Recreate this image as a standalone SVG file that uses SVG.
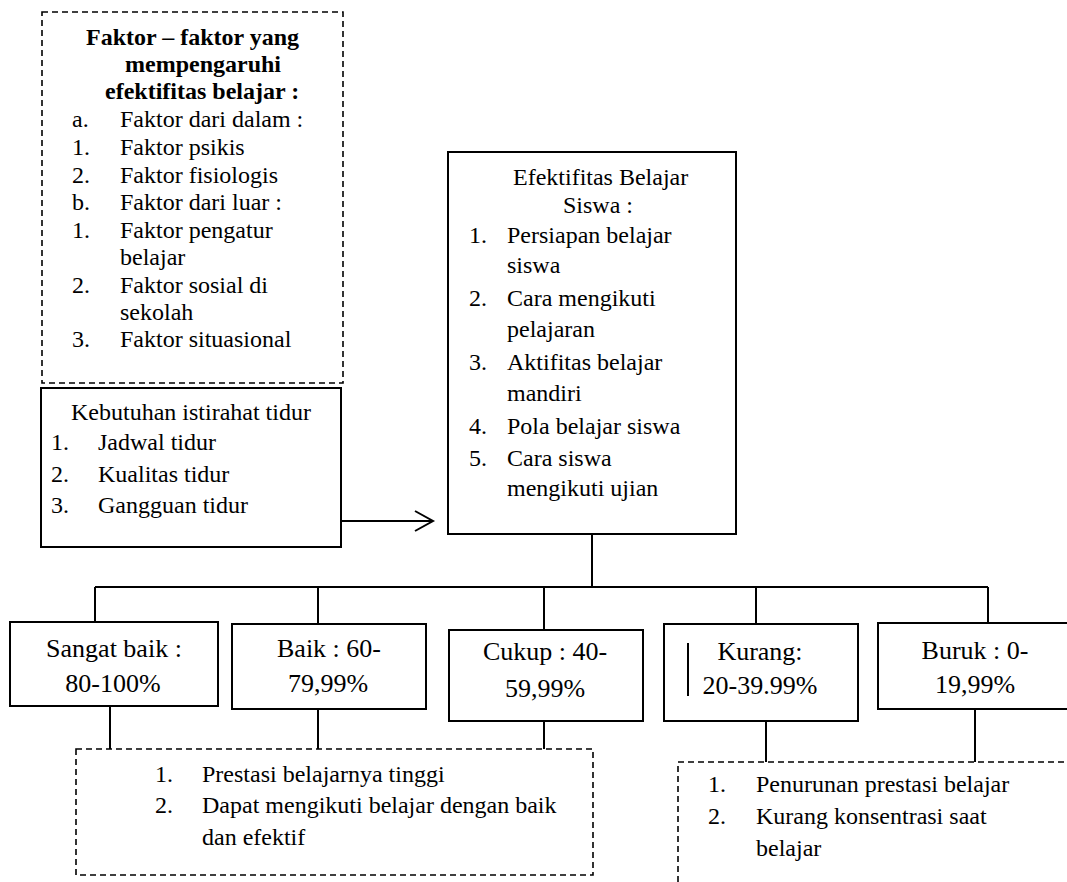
<svg xmlns="http://www.w3.org/2000/svg" width="1067" height="882" viewBox="0 0 1067 882">
<style>
  text { font-family: "Liberation Serif", "Times New Roman", serif; fill: #000; }
  .t { font-size: 24px; }
  .b { font-size: 24px; font-weight: bold; }
  .big { font-size: 26px; text-anchor: middle; }
  .box { fill: #fff; stroke: #000; stroke-width: 2; }
  .dash { fill: none; stroke: #000; stroke-width: 1.6; stroke-dasharray: 6 4; }
  .ln { fill: none; stroke: #000; stroke-width: 2; }
</style>
<rect width="1067" height="882" fill="#fff"/>

<g id="faktor">
  <rect class="dash" x="42" y="12" width="301" height="371"/>
  <text class="b" x="86" y="45">Faktor – faktor yang</text>
  <text class="b" x="125" y="72">mempengaruhi</text>
  <text class="b" x="105" y="99">efektifitas belajar :</text>
  <text class="t" x="72" y="127">a.</text><text class="t" x="120" y="127">Faktor dari dalam :</text>
  <text class="t" x="72" y="155">1.</text><text class="t" x="120" y="155">Faktor psikis</text>
  <text class="t" x="72" y="183">2.</text><text class="t" x="120" y="183">Faktor fisiologis</text>
  <text class="t" x="72" y="210">b.</text><text class="t" x="120" y="210">Faktor dari luar :</text>
  <text class="t" x="72" y="238">1.</text><text class="t" x="120" y="238">Faktor pengatur</text>
  <text class="t" x="120" y="265">belajar</text>
  <text class="t" x="72" y="293">2.</text><text class="t" x="120" y="293">Faktor sosial di</text>
  <text class="t" x="120" y="320">sekolah</text>
  <text class="t" x="72" y="347">3.</text><text class="t" x="120" y="347">Faktor situasional</text>
</g>

<g id="kebutuhan">
  <rect class="box" x="41" y="388" width="300" height="159"/>
  <text class="t" x="71" y="420">Kebutuhan istirahat tidur</text>
  <text class="t" x="51" y="450">1.</text><text class="t" x="98" y="450">Jadwal tidur</text>
  <text class="t" x="51" y="482">2.</text><text class="t" x="98" y="482">Kualitas tidur</text>
  <text class="t" x="51" y="513">3.</text><text class="t" x="98" y="513">Gangguan tidur</text>
</g>

<g id="efektifitas">
  <rect class="box" x="448" y="152" width="288" height="382"/>
  <text class="t" x="513" y="185">Efektifitas Belajar</text>
  <text class="t" x="563" y="213">Siswa :</text>
  <text class="t" x="469" y="243">1.</text><text class="t" x="507" y="243">Persiapan belajar</text>
  <text class="t" x="507" y="273">siswa</text>
  <text class="t" x="469" y="306">2.</text><text class="t" x="507" y="306">Cara mengikuti</text>
  <text class="t" x="507" y="337">pelajaran</text>
  <text class="t" x="469" y="370">3.</text><text class="t" x="507" y="370">Aktifitas belajar</text>
  <text class="t" x="507" y="401">mandiri</text>
  <text class="t" x="469" y="434">4.</text><text class="t" x="507" y="434">Pola belajar siswa</text>
  <text class="t" x="469" y="466">5.</text><text class="t" x="507" y="466">Cara siswa</text>
  <text class="t" x="507" y="496">mengikuti ujian</text>
</g>

<g id="sangat">
  <rect class="box" x="10" y="622" width="208" height="84"/>
  <text class="big" x="114" y="657">Sangat baik :</text>
  <text class="big" x="113" y="692">80-100%</text>
</g>
<g id="baik">
  <rect class="box" x="232" y="624" width="194" height="85"/>
  <text class="big" x="329" y="657">Baik : 60-</text>
  <text class="big" x="328" y="692">79,99%</text>
</g>
<g id="cukup">
  <rect class="box" x="449" y="630" width="194" height="91"/>
  <text class="big" x="545" y="660">Cukup : 40-</text>
  <text class="big" x="545" y="697">59,99%</text>
</g>
<g id="kurang">
  <rect class="box" x="664" y="624" width="194" height="97"/>
  <line class="ln" x1="688" y1="643" x2="688" y2="696"/>
  <text class="big" x="760" y="660">Kurang:</text>
  <text class="big" x="760" y="694">20-39.99%</text>
</g>
<g id="buruk">
  <rect class="box" x="878" y="623" width="200" height="86"/>
  <text class="big" x="975" y="659">Buruk : 0-</text>
  <text class="big" x="975" y="693">19,99%</text>
</g>

<g id="dampak-baik">
  <rect class="dash" x="76" y="749" width="517" height="126"/>
  <text class="t" x="155" y="782">1.</text><text class="t" x="202" y="782">Prestasi belajarnya tinggi</text>
  <text class="t" x="155" y="813">2.</text><text class="t" x="202" y="813">Dapat mengikuti belajar dengan baik</text>
  <text class="t" x="202" y="845">dan efektif</text>
</g>

<g id="dampak-buruk">
  <rect class="dash" x="678" y="762" width="420" height="140"/>
  <text class="t" x="708" y="792">1.</text><text class="t" x="756" y="792">Penurunan prestasi belajar</text>
  <text class="t" x="708" y="824">2.</text><text class="t" x="756" y="824">Kurang konsentrasi saat</text>
  <text class="t" x="756" y="856">belajar</text>
</g>

<g id="connectors">
  <line class="ln" x1="341" y1="521" x2="433" y2="521"/>
  <polyline class="ln" points="415,511 433,521 415,531"/>
  <line class="ln" x1="592" y1="534" x2="592" y2="587"/>
  <line class="ln" x1="95" y1="587" x2="988" y2="587"/>
  <line class="ln" x1="95" y1="587" x2="95" y2="622"/>
  <line class="ln" x1="318" y1="587" x2="318" y2="624"/>
  <line class="ln" x1="544" y1="587" x2="544" y2="630"/>
  <line class="ln" x1="756" y1="587" x2="756" y2="624"/>
  <line class="ln" x1="988" y1="587" x2="988" y2="623"/>
  <line class="ln" x1="110" y1="706" x2="110" y2="749"/>
  <line class="ln" x1="318" y1="709" x2="318" y2="749"/>
  <line class="ln" x1="544" y1="721" x2="544" y2="749"/>
  <line class="ln" x1="766" y1="721" x2="766" y2="762"/>
  <line class="ln" x1="975" y1="709" x2="975" y2="762"/>
</g>
</svg>
